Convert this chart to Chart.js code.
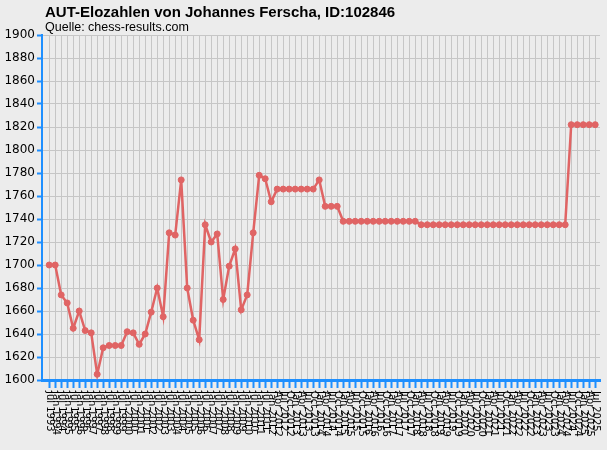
<!DOCTYPE html>
<html>
<head>
<meta charset="utf-8">
<script src="https://cdn.jsdelivr.net/npm/chart.js@4"></script>
<style>
  body { margin: 0; background: #ececec; }
  #wrap { width: 607px; height: 450px; }
</style>
</head>
<body>
<div id="wrap"><canvas id="chart-elo"></canvas></div>
<script>
var chartTitle = "AUT-Elozahlen von Johannes Ferscha, ID:102846";
var chartSource = "Quelle: chess-results.com";

var labels = ["Jul 1993","Jan 1994","Jul 1994","Jan 1995","Jul 1995","Jan 1996","Jul 1996","Jan 1997","Jul 1997",
  "Jan 1998","Jul 1998","Jan 1999","Jul 1999","Jan 2000","Jul 2000","Jan 2001","Jul 2001","Jan 2002","Jul 2002",
  "Jan 2003","Jul 2003","Jan 2004","Jul 2004","Jan 2005","Jul 2005","Jan 2006","Jul 2006","Jan 2007","Jul 2007",
  "Jan 2008","Jul 2008","Jan 2009","Jul 2009","Jan 2010","Jul 2010","Jan 2011","Jul 2011",
  "Jan 2012","Apr 2012","Jul 2012","Oct 2012","Jan 2013","Apr 2013","Jul 2013","Oct 2013",
  "Jan 2014","Apr 2014","Jul 2014","Oct 2014","Jan 2015","Apr 2015","Jul 2015","Oct 2015",
  "Jan 2016","Apr 2016","Jul 2016","Oct 2016","Jan 2017","Apr 2017","Jul 2017","Oct 2017",
  "Jan 2018","Apr 2018","Jul 2018","Oct 2018","Jan 2019","Apr 2019","Jul 2019","Oct 2019",
  "Jan 2020","Apr 2020","Jul 2020","Oct 2020","Jan 2021","Apr 2021","Jul 2021","Oct 2021",
  "Jan 2022","Apr 2022","Jul 2022","Oct 2022","Jan 2023","Apr 2023","Jul 2023","Oct 2023",
  "Jan 2024","Apr 2024","Jul 2024","Oct 2024","Jan 2025","Apr 2025","Jul 2025"];

var elo = [1700,1700,1674,1667,1645,1660,1643,1641,1605,1628,1630,1630,1630,1642,1641,1631,1640,1659,1680,1655,
  1728,1726,1774,1680,1652,1635,1735,1720,1727,1670,1699,1714,1661,1674,1728,1778,1775,1755,
  1766,1766,1766,1766,1766,1766,1766,1774,1751,1751,1751,
  1738,1738,1738,1738,1738,1738,1738,1738,1738,1738,1738,1738,1738,
  1735,1735,1735,1735,1735,1735,1735,1735,1735,1735,1735,1735,1735,1735,1735,1735,1735,1735,1735,1735,1735,1735,1735,1735,1735,
  1822,1822,1822,1822,1822];

var yMin = 1600, yMax = 1900, yStep = 20;

var axisBlue = "#1e8fff";
var gridGrey = "#c6c6c6";
var lineRed = "#e06464";

var points = elo.map(function(v, i){ return {x: i, y: v}; });

var decor = {
  id: "decor",
  beforeDraw: function(chart){
    var c = chart.ctx;
    c.save();
    c.fillStyle = "#ececec";
    c.fillRect(0, 0, chart.width, chart.height);
    c.restore();
  },
  afterDraw: function(chart){
    var c = chart.ctx;
    var xs = chart.scales.x;
    c.save();
    c.fillStyle = "#000";
    c.textAlign = "left";
    c.textBaseline = "alphabetic";
    c.font = "bold 15px 'Liberation Sans', Arial, sans-serif";
    c.fillText(chartTitle, 45, 17);
    c.font = "12.5px 'Liberation Sans', Arial, sans-serif";
    c.fillText(chartSource, 45, 31);
    // x labels, turned clockwise so they read top-down
    c.font = "10px 'DejaVu Sans', sans-serif";
    c.textBaseline = "middle";
    labels.forEach(function(lab, i){
      c.save();
      c.translate(xs.getPixelForValue(i), chart.chartArea.bottom + 11);
      c.rotate(Math.PI / 2);
      c.fillText(lab, 0, 0);
      c.restore();
    });
    c.restore();
  }
};

var ctx = document.getElementById("chart-elo").getContext("2d");
new Chart(ctx, {
  type: "line",
  data: {
    datasets: [{
      label: "Elo",
      data: points,
      borderColor: lineRed,
      backgroundColor: lineRed,
      borderWidth: 2.5,
      pointRadius: 3,
      pointBorderWidth: 1,
      pointBackgroundColor: lineRed,
      pointBorderColor: lineRed,
      tension: 0
    }]
  },
  options: {
    responsive: true,
    maintainAspectRatio: false,
    animation: false,
    layout: { padding: { top: 35, right: 7, left: 0, bottom: 0 } },
    plugins: {
      legend: { display: false },
      tooltip: { enabled: false }
    },
    scales: {
      x: {
        type: "linear",
        min: -1.2,
        max: 91.8,
        afterBuildTicks: function(s){
          s.ticks = labels.map(function(lab, i){ return {value: i}; });
        },
        afterFit: function(s){ s.height = 70; },
        border: { color: axisBlue, width: 3 },
        grid: {
          color: gridGrey,
          lineWidth: 1,
          drawTicks: true,
          tickLength: 8,
          tickColor: axisBlue,
          tickWidth: 2
        },
        ticks: { autoSkip: false, color: "transparent", font: { size: 1 } }
      },
      y: {
        min: yMin,
        max: yMax,
        afterFit: function(s){ s.width = 42; },
        border: { color: axisBlue, width: 2 },
        grid: {
          color: gridGrey,
          lineWidth: 1,
          tickLength: 5,
          tickColor: axisBlue,
          tickWidth: 2
        },
        ticks: {
          stepSize: yStep,
          color: "#000",
          padding: 2,
          font: { family: "'DejaVu Sans'", size: 12 },
          callback: function(v){ return String(v); }
        }
      }
    }
  },
  plugins: [decor]
});
</script>
</body>
</html>
